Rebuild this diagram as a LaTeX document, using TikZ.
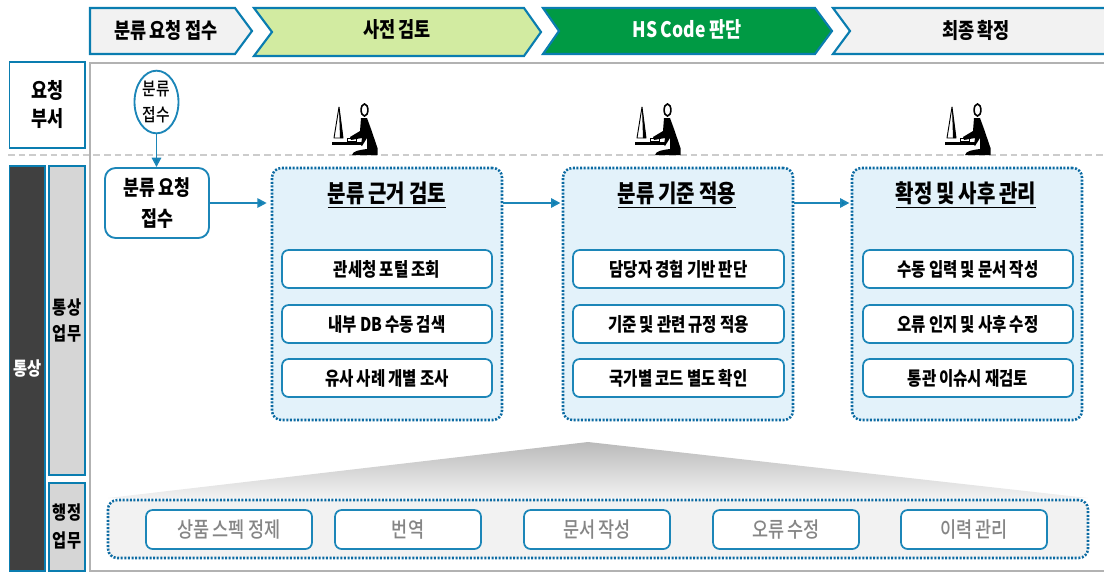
\documentclass[tikz,border=0pt]{standalone}
\usepackage{fontspec}
\setmainfont[FakeStretch=0.82,WordSpace=0.85]{Noto Sans CJK KR}
\newfontfamily\medfont[FakeStretch=0.82,WordSpace=0.85]{Noto Sans CJK KR Medium}
\usetikzlibrary{shapes.geometric,arrows.meta,calc}
\definecolor{blu}{HTML}{0A7DB0}
\definecolor{dot}{HTML}{0B6AA2}
\definecolor{conn}{HTML}{1C86B8}
\definecolor{pale}{HTML}{E3F2FA}
\definecolor{lightg}{HTML}{F2F2F2}
\definecolor{sideg}{HTML}{D6D6D6}
\definecolor{dark}{HTML}{404040}
\definecolor{lime}{HTML}{D2EBA1}
\definecolor{grn}{HTML}{009A44}
\definecolor{txtg}{HTML}{858585}
\tikzset{
  x=0.75pt,y=-0.75pt,
  chev/.style={draw=blu,line width=1.6pt,line join=miter},
  headtxt/.style={font=\bfseries\fontsize{16}{18}\selectfont,inner sep=0},
  sidebox/.style={draw=blu,line width=1.4pt,inner sep=0,align=center},
  startbox/.style={draw=conn,line width=1.4pt,rounded corners=8pt,fill=white,inner sep=0,align=center,font=\bfseries\fontsize{15.8}{23}\selectfont},
  panel/.style={draw=dot,fill=pale,line width=1.9pt,dash pattern=on 1.5pt off 1.2pt,rounded corners=7pt,inner sep=0},
  paneltitle/.style={font=\bfseries\fontsize{18.3}{20}\selectfont,inner sep=0},
  item/.style={draw=conn,fill=white,line width=1.3pt,rounded corners=5pt,inner sep=0,font=\bfseries\fontsize{14.2}{16}\selectfont},
  admin/.style={draw=conn,fill=white,line width=1.3pt,rounded corners=5pt,inner sep=0,text=txtg,font=\medfont\fontsize{16}{18}\selectfont},
  arrow/.style={draw=conn,line width=1.4pt,-{Triangle[length=7pt,width=7pt,fill=blu]}},
}
\newcommand{\bxn}[7][]{%
  \pgfmathsetmacro{\bw}{(#5-#3)*0.75}%
  \pgfmathsetmacro{\bh}{(#6-#4)*0.75}%
  \pgfmathsetmacro{\bx}{(#3+#5)/2}%
  \pgfmathsetmacro{\by}{(#4+#6)/2}%
  \node[#1,minimum width=\bw pt,minimum height=\bh pt] (#2) at (\bx,\by) {#7};}
\newcommand{\worker}[2]{%
 \begin{scope}[shift={(#1,#2)}]
  \draw[black,line width=0.7pt,line join=round] (7,-48) -- (2,-17) -- (11,-17) -- cycle;
  \fill[black] (7,-48) -- (8,-17) -- (11,-17) -- cycle;
  \fill[black] (0,-13) rectangle (31,-10.2);
  \draw[black,line width=0.6pt] (15,-17) rectangle (24,-14);
  \draw[black,fill=white,line width=1.2pt] (32.5,-45) ellipse (3.4 and 6);
  \fill[black] (29,-37) -- (35,-37) -- (39,-26) -- (45.5,-7) -- (45.5,0) -- (20,0)
     .. controls (21,-4) and (27,-5) .. (35,-6) -- (35,-17) -- (30,-9) -- (29,-10) -- (30,-17) -- (19,-15) -- (18,-18) -- (28,-24) -- cycle;
 \end{scope}}
\begin{document}
\begin{tikzpicture}
\useasboundingbox (0,0) rectangle (1104,572);
% frame
\draw[draw=black!30,line width=1.5pt] (1106,63) -- (90,63) -- (90,571) -- (1106,571);
% dashed divider
\draw[draw=black!20,line width=1.3pt,dash pattern=on 5pt off 3pt] (8,155) -- (1104,155);
% chevrons
\draw[chev,fill=lightg] (90,8) -- (235,8) -- (252,31) -- (235,54) -- (90,54) -- cycle;
\draw[chev,fill=lime] (254,8) -- (524,8) -- (541,32) -- (524,56) -- (254,56) -- (272,32) -- cycle;
\draw[chev,fill=grn] (543,8) -- (815,8) -- (832,31) -- (815,54) -- (543,54) -- (559,31) -- cycle;
\draw[chev,fill=lightg] (833,8) -- (1108,8) -- (1108,54) -- (833,54) -- (850,31) -- cycle;
\node[headtxt] (h1) at (166,30) {분류 요청 접수};
\node[headtxt] (h2) at (397,30) {사전 검토};
\node[headtxt,text=white] (h3) at (687,29) {HS Code 판단};
\node[headtxt] (h4) at (976,30) {최종 확정};
% side boxes
\bxn[sidebox,font=\bfseries\fontsize{16}{21}\selectfont]{s1}{9.5}{62}{85}{148}{요청\\부서}
\bxn[sidebox,fill=dark,text=white,font=\bfseries\fontsize{14}{16}\selectfont]{s2}{9.5}{166}{45}{571}{통상}
\bxn[sidebox,fill=sideg,font=\bfseries\fontsize{14}{20}\selectfont]{s3}{49}{166}{85}{475}{통상\\업무}
\bxn[sidebox,fill=sideg,font=\bfseries\fontsize{14}{21}\selectfont]{s4}{49}{483}{85}{571}{행정\\업무}
% request
\node[ellipse,draw=conn,line width=1.4pt,fill=white,inner sep=0,minimum width=33pt,minimum height=47pt,align=center,font=\medfont\fontsize{13.5}{20}\selectfont] (e1) at (156.5,102) {분류\\접수};
\bxn[startbox]{b1}{105}{168}{209}{238}{분류 요청\\접수}
% panels
\bxn[panel]{p1}{272}{168}{502}{420}{}
\bxn[panel]{p2}{563}{168}{793}{420}{}
\bxn[panel]{p3}{852}{168}{1082}{420}{}
\node[paneltitle] (t1) at (387,195) {\underline{분류 근거 검토}};
\node[paneltitle] (t2) at (677,195) {\underline{분류 기준 적용}};
\node[paneltitle] (t3) at (966,195) {\underline{확정 및 사후 관리}};
% items
\bxn[item]{i11}{282}{250}{492}{288}{관세청 포털 조회}
\bxn[item]{i12}{282}{305}{492}{343}{내부 DB 수동 검색}
\bxn[item]{i13}{282}{359}{492}{397}{유사 사례 개별 조사}
\bxn[item]{i21}{573}{250}{784}{288}{담당자 경험 기반 판단}
\bxn[item]{i22}{573}{305}{784}{343}{기준 및 관련 규정 적용}
\bxn[item]{i23}{573}{359}{784}{397}{국가별 코드 별도 확인}
\bxn[item]{i31}{863}{250}{1073}{288}{수동 입력 및 문서 작성}
\bxn[item]{i32}{863}{305}{1073}{343}{오류 인지 및 사후 수정}
\bxn[item]{i33}{863}{359}{1073}{397}{통관 이슈시 재검토}
% arrows
\draw[arrow] (e1.south) -- (e1.south |- b1.north);
\draw[arrow,shorten >=3pt] (b1.east) -- (b1.east -| p1.west);
\draw[arrow,shorten >=1pt] (b1.east -| p1.east) -- (b1.east -| p2.west);
\draw[arrow,shorten >=1pt] (b1.east -| p2.east) -- (b1.east -| p3.west);
% workers
\worker{332}{155}
\worker{635}{155}
\worker{945}{155}
% funnel
\shade[top color=black!27,bottom color=lightg] (588,442) -- (1088,498) -- (108,498) -- cycle;
% bottom band
\bxn[panel,fill=lightg]{p4}{108}{500}{1088}{558}{}
\bxn[admin]{a1}{146}{510}{312}{549}{상품 스펙 정제}
\bxn[admin]{a2}{335}{510}{481}{549}{번역}
\bxn[admin]{a3}{524}{510}{670}{549}{문서 작성}
\bxn[admin]{a4}{713}{510}{859}{549}{오류 수정}
\bxn[admin]{a5}{901}{510}{1047}{549}{이력 관리}
\end{tikzpicture}
\end{document}
